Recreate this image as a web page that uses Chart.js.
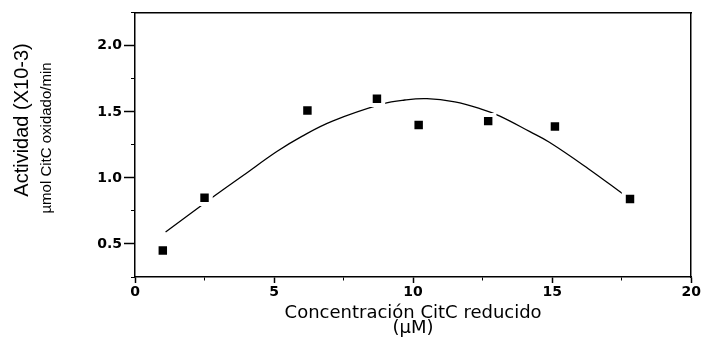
<!DOCTYPE html>
<html>
<head>
<meta charset="utf-8">
<script src="https://cdn.jsdelivr.net/npm/chart.js@4"></script>
<style>
html,body{margin:0;padding:0;background:#fff}
#wrap{width:704px;height:340px;position:relative}
</style>
</head>
<body>
<div id="wrap"><canvas id="c" width="704" height="340"></canvas></div>
<script>
// Measured points
const concentration = [1.0, 2.5, 6.2, 8.7, 10.2, 12.7, 15.1, 17.8];
const activity = [0.45, 0.85, 1.51, 1.60, 1.40, 1.43, 1.39, 0.84];
// Fitted curve
const fitX = [1.1, 2.9, 3.9, 5.1, 6.0, 7.1, 8.9, 9.7, 10.5, 11.5, 12.4, 13.1, 14.2, 14.9, 16.3, 17.6];
const fitY = [0.59, 0.87, 1.02, 1.20, 1.315, 1.43, 1.56, 1.59, 1.60, 1.575, 1.525, 1.47, 1.35, 1.27, 1.07, 0.87];
// Tick labels
const xTickValues = [0, 5, 10, 15, 20];
const yTickValues = [0.5, 1.0, 1.5, 2.0];
// Titles
const xTitle = ['Concentración CitC reducido', '(µM)'];
const yTitleLine1 = 'Actividad (X10-3)';
const yTitleLine2 = 'µmol CitC oxidado/min';

const near = (v, list) => list.some(t => Math.abs(t - v) < 1e-6);
const tickFont = {family: 'DejaVu Sans', size: 14, weight: 'bold'};

// vertical extent used to centre each rotated title line
const titleSpans = {yt1: [10, 230], yt2: [10, 266]};
const titlePlacement = {
  id: 'titlePlacement',
  afterLayout(chart) {
    Object.keys(titleSpans).forEach(k => {
      const s = chart.scales[k];
      if (s) { s.top = titleSpans[k][0]; s.bottom = titleSpans[k][1]; }
    });
  }
};

new Chart(document.getElementById('c'), {
  type: 'scatter',
  plugins: [titlePlacement],
  data: {
    datasets: [
      {
        type: 'scatter',
        data: concentration.map((x, i) => ({x: x, y: activity[i]})),
        pointStyle: 'rect',
        pointRadius: 8.8,
        pointBackgroundColor: '#000',
        pointBorderColor: '#fff',
        pointBorderWidth: 4,
        showLine: false,
        order: 0
      },
      {
        type: 'line',
        data: fitX.map((x, i) => ({x: x, y: fitY[i]})),
        borderColor: '#000',
        borderWidth: 1.3,
        pointRadius: 0,
        fill: false,
        tension: 0.4,
        order: 1
      }
    ]
  },
  options: {
    responsive: false,
    animation: false,
    devicePixelRatio: 1,
    layout: {padding: {left: 0, right: 0, top: 0, bottom: 4}},
    plugins: {legend: {display: false}, tooltip: {enabled: false}},
    scales: {
      x: {
        type: 'linear', position: 'bottom', min: 0, max: 20,
        ticks: {
          stepSize: 2.5, autoSkip: false, maxRotation: 0, padding: 1,
          font: tickFont, color: '#000',
          callback: v => near(v, xTickValues) ? String(v) : ''
        },
        grid: {
          display: true, drawOnChartArea: false, drawTicks: true, tickLength: 6,
          color: '#000',
          tickWidth: c => near(c.tick.value, xTickValues) ? 1.5 : 1,
          tickBorderDash: c => near(c.tick.value, xTickValues) ? [] : [3, 10],
          tickBorderDashOffset: 0
        },
        border: {display: true, color: '#000', width: 1.5},
        title: {
          display: true, text: xTitle, color: '#000',
          font: {family: 'DejaVu Sans', size: 18, lineHeight: 0.85},
          padding: {top: 0, bottom: 0}
        },
        afterFit: s => { s.height = 59; }
      },
      x2: {
        type: 'linear', position: 'top', min: 0, max: 20, display: true,
        ticks: {display: false}, grid: {display: false},
        border: {display: true, color: '#000', width: 1.5},
        afterFit: s => { s.height = 10; }
      },
      y: {
        type: 'linear', position: 'left', weight: 0, min: 0.25, max: 2.25,
        ticks: {
          stepSize: 0.25, autoSkip: false, padding: 2,
          font: tickFont, color: '#000',
          callback: v => near(v, yTickValues) ? v.toFixed(1) : ''
        },
        grid: {
          display: true, drawOnChartArea: false, drawTicks: true, tickLength: 11,
          color: '#000',
          tickWidth: c => near(c.tick.value, yTickValues) ? 1.5 : 1,
          tickBorderDash: c => near(c.tick.value, yTickValues) ? [] : [4, 7],
          tickBorderDashOffset: c => near(c.tick.value, yTickValues) ? 0 : 4
        },
        border: {display: true, color: '#000', width: 1.5},
        afterFit: s => { s.width = 80; }
      },
      yt2: {
        type: 'linear', position: 'left', weight: 1, min: 0.25, max: 2.25, display: true,
        ticks: {display: false}, grid: {display: false}, border: {display: false},
        title: {
          display: true, text: yTitleLine2, color: '#000',
          font: {family: 'Liberation Sans', size: 15, lineHeight: 1},
          padding: {top: 4.5, bottom: 0}
        },
        afterFit: s => { s.width = 20; }
      },
      yt1: {
        type: 'linear', position: 'left', weight: 2, min: 0.25, max: 2.25, display: true,
        ticks: {display: false}, grid: {display: false}, border: {display: false},
        title: {
          display: true, text: yTitleLine1, color: '#000',
          font: {family: 'Liberation Sans', size: 20, lineHeight: 1},
          padding: {top: 12, bottom: 0}
        },
        afterFit: s => { s.width = 35; }
      },
      y2: {
        type: 'linear', position: 'right', min: 0.25, max: 2.25, display: true,
        ticks: {display: false}, grid: {display: false},
        border: {display: true, color: '#000', width: 1.5},
        afterFit: s => { s.width = 11; }
      }
    }
  }
});
</script>
</body>
</html>
